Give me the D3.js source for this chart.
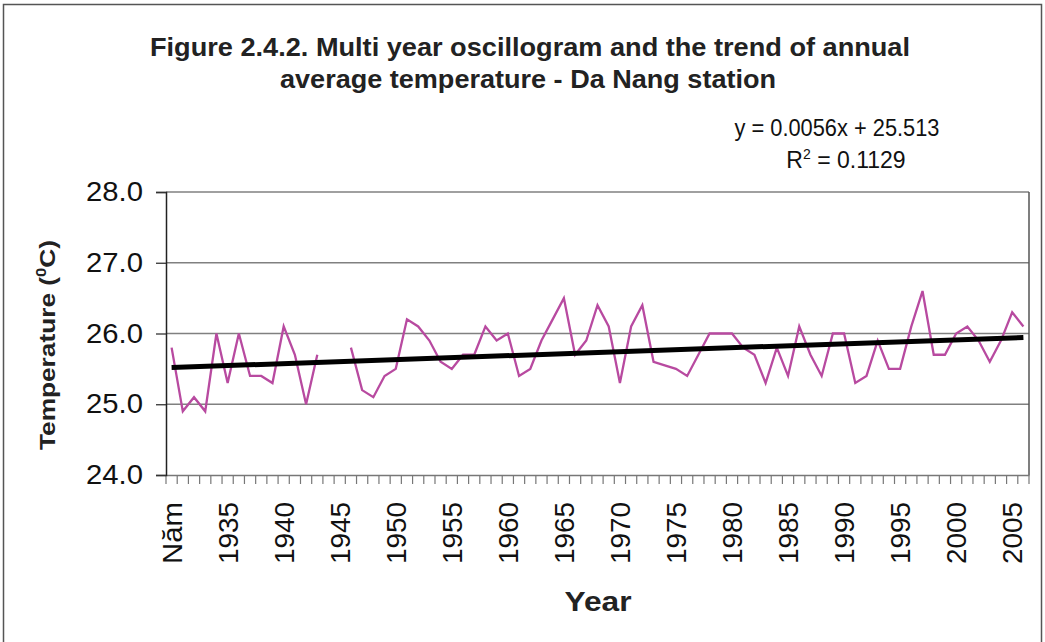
<!DOCTYPE html>
<html>
<head>
<meta charset="utf-8">
<script src="https://cdn.jsdelivr.net/npm/d3@7"></script>
<style>
  body { margin: 0; background: #fff; }
  svg { display: block; font-family: "Liberation Sans", Arial, sans-serif; }
</style>
</head>
<body>
<svg id="chart" width="1045" height="642"></svg>
<script>
// categories (first cell of the sheet is the header "Năm" = 1930)
const years = [
  'Năm', '1931', '1932', '1933', '1934', '1935', '1936', '1937', '1938', '1939',
  '1940', '1941', '1942', '1943', '1944', '1945', '1946', '1947', '1948', '1949',
  '1950', '1951', '1952', '1953', '1954', '1955', '1956', '1957', '1958', '1959',
  '1960', '1961', '1962', '1963', '1964', '1965', '1966', '1967', '1968', '1969',
  '1970', '1971', '1972', '1973', '1974', '1975', '1976', '1977', '1978', '1979',
  '1980', '1981', '1982', '1983', '1984', '1985', '1986', '1987', '1988', '1989',
  '1990', '1991', '1992', '1993', '1994', '1995', '1996', '1997', '1998', '1999',
  '2000', '2001', '2002', '2003', '2004', '2005', '2006'
];

// annual average temperature (°C), null = no record
const temperature = [
  25.8, 24.9, 25.1, 24.9, 26.0, 25.3, 26.0, 25.4, 25.4, 25.3,
  26.1, 25.7, 25.0, 25.7, null, null, 25.8, 25.2, 25.1, 25.4,
  25.5, 26.2, 26.1, 25.9, 25.6, 25.5, 25.7, 25.7, 26.1, 25.9,
  26.0, 25.4, 25.5, 25.9, 26.2, 26.5, 25.7, 25.9, 26.4, 26.1,
  25.3, 26.1, 26.4, 25.6, 25.55, 25.5, 25.4, 25.7, 26.0, 26.0,
  26.0, 25.8, 25.7, 25.3, 25.8, 25.4, 26.1, 25.7, 25.4, 26.0,
  26.0, 25.3, 25.4, 25.9, 25.5, 25.5, 26.1, 26.6, 25.7, 25.7,
  26.0, 26.1, 25.9, 25.6, 25.9, 26.3, 26.1
];

const yTicks = [24, 25, 26, 27, 28];
const xLabels = ['Năm', '1935', '1940', '1945', '1950', '1955', '1960', '1965', '1970',
  '1975', '1980', '1985', '1990', '1995', '2000', '2005'];

// linear trend (Excel: x = 1..n)
const trendSlope = 0.0056;
const trendIntercept = 25.513;

const svg = d3.select('#chart');
const margin = { top: 192, right: 16, bottom: 167, left: 166 };
const W = 1045, H = 642;
const width = W - margin.left - margin.right;
const height = H - margin.top - margin.bottom;

// outer frame
svg.append('rect')
  .attr('x', 3.5).attr('y', 4.5)
  .attr('width', 1038).attr('height', 660)
  .attr('fill', 'none').attr('stroke', '#555').attr('stroke-width', 1.5);

const x = d3.scaleBand().domain(years).range([margin.left, margin.left + width]).padding(0);
const y = d3.scaleLinear().domain([24, 28]).range([margin.top + height, margin.top]);

// gridlines
svg.append('g')
  .selectAll('line')
  .data(yTicks.slice(1))
  .join('line')
  .attr('x1', margin.left).attr('x2', margin.left + width)
  .attr('y1', d => y(d)).attr('y2', d => y(d))
  .attr('stroke', '#808080').attr('stroke-width', 1.3);

// plot right border
svg.append('line')
  .attr('x1', margin.left + width).attr('x2', margin.left + width)
  .attr('y1', y(28)).attr('y2', y(24))
  .attr('stroke', '#555').attr('stroke-width', 1.5);

// x tick marks at category boundaries
const bounds = years.map(d => x(d)).concat([margin.left + width]);
svg.append('g')
  .selectAll('line')
  .data(bounds)
  .join('line')
  .attr('x1', d => d).attr('x2', d => d)
  .attr('y1', y(24)).attr('y2', y(24) + 9)
  .attr('stroke', '#777').attr('stroke-width', 1.2);

// x axis labels
const xAxis = svg.append('g')
  .attr('transform', `translate(0,${y(24)})`)
  .call(d3.axisBottom(x).tickValues(xLabels).tickSize(0).tickPadding(0));
xAxis.select('.domain').attr('stroke', '#777').attr('stroke-width', 1.3);
xAxis.selectAll('text')
  .attr('font-size', 28)
  .attr('fill', '#111')
  .attr('text-anchor', 'end')
  .attr('transform', 'rotate(-90)')
  .attr('x', -27)
  .attr('y', 0)
  .attr('dy', '0.36em')
  .attr('textLength', 62)
  .attr('lengthAdjust', 'spacingAndGlyphs');

// y axis
const yAxis = svg.append('g')
  .attr('transform', `translate(${margin.left},0)`)
  .call(d3.axisLeft(y).tickValues(yTicks).tickFormat(d3.format('.1f')).tickSize(10).tickPadding(13));
yAxis.select('.domain').attr('stroke', '#222').attr('stroke-width', 1.5);
yAxis.selectAll('.tick line').attr('stroke', '#333').attr('stroke-width', 1.3);
yAxis.selectAll('text')
  .attr('font-size', 27)
  .attr('fill', '#111')
  .attr('textLength', 57)
  .attr('lengthAdjust', 'spacingAndGlyphs');

// data line
const pts = years.map((c, i) => ({ c, v: temperature[i] }));
const line = d3.line()
  .defined(d => d.v != null)
  .x(d => x(d.c) + x.bandwidth() / 2)
  .y(d => y(d.v));
svg.append('path')
  .datum(pts)
  .attr('d', line)
  .attr('fill', 'none')
  .attr('stroke', '#b84aa0')
  .attr('stroke-width', 2.3)
  .attr('stroke-linejoin', 'miter');

// trend line
const first = years[0], last = years[years.length - 1];
svg.append('line')
  .attr('x1', x(first) + x.bandwidth() / 2)
  .attr('y1', y(trendSlope * 1 + trendIntercept))
  .attr('x2', x(last) + x.bandwidth() / 2)
  .attr('y2', y(trendSlope * years.length + trendIntercept))
  .attr('stroke', '#000')
  .attr('stroke-width', 5);

// titles
svg.append('text')
  .attr('x', 530).attr('y', 56)
  .attr('text-anchor', 'middle')
  .attr('font-size', 26).attr('font-weight', 'bold').attr('fill', '#222')
  .attr('textLength', 760).attr('lengthAdjust', 'spacingAndGlyphs')
  .text('Figure 2.4.2. Multi year oscillogram and the trend of annual');
svg.append('text')
  .attr('x', 528).attr('y', 88)
  .attr('text-anchor', 'middle')
  .attr('font-size', 26).attr('font-weight', 'bold').attr('fill', '#222')
  .attr('textLength', 496).attr('lengthAdjust', 'spacingAndGlyphs')
  .text('average temperature - Da Nang station');

// trend equation
svg.append('text')
  .attr('x', 837).attr('y', 136)
  .attr('text-anchor', 'middle')
  .attr('font-size', 23).attr('fill', '#111')
  .attr('textLength', 205).attr('lengthAdjust', 'spacingAndGlyphs')
  .text('y = 0.0056x + 25.513');
const r2 = svg.append('text')
  .attr('x', 846).attr('y', 168)
  .attr('text-anchor', 'middle')
  .attr('font-size', 23).attr('fill', '#111');
r2.append('tspan').text('R');
r2.append('tspan').attr('font-size', 14).attr('dy', -9).text('2');
r2.append('tspan').attr('dy', 9).text(' = 0.1129');

// axis titles
svg.append('text')
  .attr('x', 598).attr('y', 611)
  .attr('text-anchor', 'middle')
  .attr('font-size', 28).attr('font-weight', 'bold').attr('fill', '#222')
  .attr('textLength', 67).attr('lengthAdjust', 'spacingAndGlyphs')
  .text('Year');

const yt = svg.append('text')
  .attr('transform', 'translate(55,345) rotate(-90)')
  .attr('text-anchor', 'middle')
  .attr('font-size', 22).attr('font-weight', 'bold').attr('fill', '#222')
  .attr('textLength', 210).attr('lengthAdjust', 'spacingAndGlyphs');
yt.append('tspan').text('Temperature (');
yt.append('tspan').attr('font-size', 14).attr('dy', -9).text('0');
yt.append('tspan').attr('dy', 9).text('C)');
</script>
</body>
</html>
